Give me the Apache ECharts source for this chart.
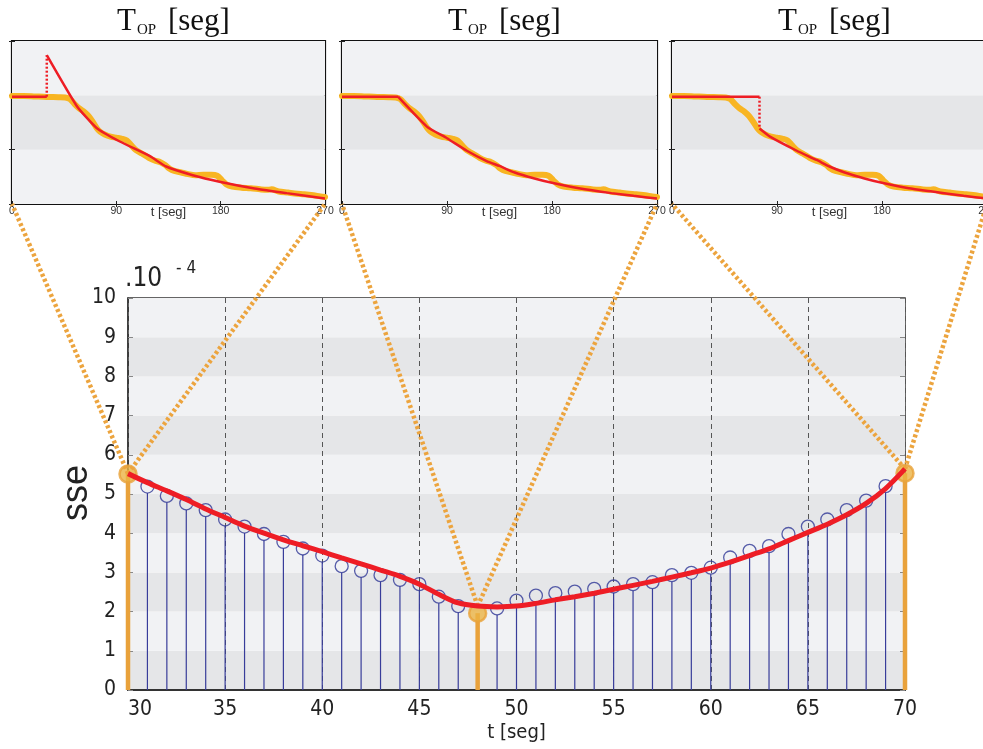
<!DOCTYPE html>
<html>
<head>
<meta charset="utf-8">
<script src="https://cdn.jsdelivr.net/npm/echarts@6/dist/echarts.min.js"></script>
<style>
  html, body { margin: 0; padding: 0; background: #ffffff; }
  #chart { width: 983px; height: 749px; }
</style>
</head>
<body>
<div id="chart"></div>
<script>
// ---- main plot: sum of squared errors versus switching time ----
const tSeg = [30, 31, 32, 33, 34, 35, 36, 37, 38, 39, 40, 41, 42, 43, 44, 45, 46, 47, 48, 49,
              50, 51, 52, 53, 54, 55, 56, 57, 58, 59, 60, 61, 62, 63, 64, 65, 66, 67, 68, 69, 70];
const sse = [5.51, 5.19, 4.95, 4.76, 4.59, 4.35, 4.17, 3.98, 3.78, 3.61, 3.43, 3.16, 3.04, 2.93,
             2.81, 2.70, 2.38, 2.14, 1.96, 2.08, 2.28, 2.41, 2.47, 2.51, 2.58, 2.64, 2.70, 2.75,
             2.93, 2.99, 3.12, 3.38, 3.55, 3.67, 3.98, 4.17, 4.35, 4.59, 4.83, 5.20, 5.53];
const sseFit = [5.52, 5.29, 5.08, 4.86, 4.62, 4.40, 4.18, 4.00, 3.83, 3.68, 3.53, 3.37, 3.22,
                3.06, 2.90, 2.70, 2.44, 2.22, 2.14, 2.12, 2.14, 2.21, 2.30, 2.38, 2.47, 2.57,
                2.67, 2.77, 2.88, 2.99, 3.11, 3.26, 3.43, 3.60, 3.81, 4.02, 4.23, 4.47, 4.76,
                5.14, 5.64];
const highlightT = [30, 48, 70];
const xTicks = [30, 35, 40, 45, 50, 55, 60, 65, 70];

// ---- small panels: T_OP over time ----
const panelTicks = [0, 90, 180, 270];
const measured = [[0, 1.99], [10, 1.99], [20, 1.98], [30, 1.97], [40, 1.965], [46, 1.96],
                  [50, 1.93], [54, 1.84], [58, 1.76], [62, 1.70], [66, 1.62], [70, 1.50],
                  [73, 1.40], [76, 1.33], [80, 1.28], [85, 1.24], [90, 1.22], [95, 1.20],
                  [99, 1.17], [103, 1.08], [107, 0.99], [112, 0.93], [118, 0.85], [123, 0.80],
                  [128, 0.77], [132, 0.72], [136, 0.65], [140, 0.61], [146, 0.58], [152, 0.55],
                  [158, 0.53], [165, 0.54], [172, 0.54], [177, 0.52], [181, 0.44], [185, 0.36],
                  [190, 0.32], [198, 0.30], [206, 0.29], [214, 0.27], [220, 0.26], [224, 0.27],
                  [230, 0.23], [238, 0.21], [246, 0.19], [252, 0.18], [260, 0.16], [266, 0.14],
                  [270, 0.13]];
const switchT = [30, 48, 75];
const holdLevel = [1.975, 1.975, 1.975];
const model1 = [[30, 2.74], [56, 1.80], [73, 1.40], [93, 1.15], [119, 0.88], [133, 0.69],
                [156, 0.53], [179, 0.41], [208, 0.29], [237, 0.20], [270, 0.10]];
const model2 = [[48, 1.975], [73, 1.42], [90, 1.21], [107, 0.98], [124, 0.79], [135, 0.70],
                [148, 0.58], [165, 0.47], [180, 0.39], [203, 0.29], [231, 0.20], [250, 0.15],
                [270, 0.10]];
const model3 = [[75, 1.39], [84, 1.24], [107, 0.98], [124, 0.81], [135, 0.69], [148, 0.58],
                [165, 0.47], [180, 0.39], [203, 0.29], [223, 0.23], [250, 0.15], [270, 0.10]];
const models = [model1, model2, model3];

const SANS_N = "'Liberation Sans Narrow', 'DejaVu Sans Condensed', 'Liberation Sans', sans-serif";
const SANS = "'Liberation Sans', Arial, sans-serif";
const SERIF = "'Liberation Serif', 'DejaVu Serif', serif";
const LIGHT = '#f1f2f4', DARK = '#e5e6e8';
const ORANGE = '#e9a23b', RED = '#ee1d25', BLUE = '#2f3796';

const chart = echarts.init(document.getElementById('chart'), null, { renderer: 'canvas' });

const stemsBlue = [], stemsOrange = [], fitLine = [];
tSeg.forEach((t, i) => {
  fitLine.push([t, sseFit[i]]);
  if (highlightT.includes(t)) stemsOrange.push([t, sse[i]]);
  else stemsBlue.push([t, sse[i]]);
});

function stemRenderer(gap, color, width) {
  return function (params, api) {
    const base = api.coord([api.value(0), 0]);
    const top = api.coord([api.value(0), api.value(1)]);
    return {
      type: 'line',
      shape: { x1: base[0], y1: base[1], x2: top[0], y2: top[1] + gap },
      style: { stroke: color, lineWidth: width }
    };
  };
}

const grids = [
  { left: 128, top: 298, width: 777, height: 392 },
  { left: 12, top: 41, width: 313, height: 163 },
  { left: 342, top: 41, width: 315, height: 163 },
  { left: 672, top: 41, width: 315, height: 163 }
].map(g => Object.assign({ show: true, borderColor: '#111', borderWidth: 2.2, backgroundColor: 'transparent',
                           containLabel: false, outerBoundsMode: 'none' }, g));
grids[0].borderColor = '#333';
grids[0].borderWidth = 1.5;

const xAxes = [{
  type: 'value', gridIndex: 0, min: 30, max: 70, interval: 5, position: 'bottom',
  axisLine: { show: true, lineStyle: { color: '#333', width: 2 } },
  axisTick: { show: false },
  axisLabel: { color: '#222', fontFamily: SANS_N, fontSize: 21, margin: 9, alignMinLabel: 'left',
               customValues: xTicks },
  splitLine: { show: true, lineStyle: { color: '#555', width: 1, type: [5, 4] } },
  name: 't [seg]', nameLocation: 'middle', nameGap: 33, nameMoveOverlap: false,
  nameTextStyle: { color: '#222', fontFamily: SANS_N, fontSize: 20 }
}];
const yAxes = [{
  type: 'value', gridIndex: 0, min: 0, max: 10, interval: 1, position: 'left',
  axisLine: { show: true, lineStyle: { color: '#333', width: 1.5 } },
  axisTick: { show: true, inside: true, length: 5, lineStyle: { color: '#888' } },
  axisLabel: { color: '#222', fontFamily: SANS_N, fontSize: 21, margin: 12 },
  splitLine: { show: false },
  splitArea: { show: true, areaStyle: { color: [DARK, LIGHT] } }
}, {
  type: 'value', gridIndex: 0, min: 0, max: 10, interval: 1, position: 'right',
  axisLine: { show: false },
  axisTick: { show: true, inside: true, length: 5, lineStyle: { color: '#888' } },
  axisLabel: { show: false }, splitLine: { show: false }
}];

const series = [
  { type: 'custom', name: 'stems', xAxisIndex: 0, yAxisIndex: 0, data: stemsBlue,
    encode: { x: 0, y: 1 }, renderItem: stemRenderer(6.5, '#383d9a', 1.2), z: 3, silent: true },
  { type: 'scatter', name: 'sse', xAxisIndex: 0, yAxisIndex: 0, data: stemsBlue,
    symbol: 'circle', symbolSize: 13,
    itemStyle: { color: 'rgba(0,0,0,0)', borderColor: BLUE, borderWidth: 1.3 }, z: 4, silent: true },
  { type: 'custom', name: 'stemsOp', xAxisIndex: 0, yAxisIndex: 0, data: stemsOrange,
    encode: { x: 0, y: 1 }, renderItem: stemRenderer(0, ORANGE, 4.5), z: 5, silent: true },
  { type: 'scatter', name: 'sseOp', xAxisIndex: 0, yAxisIndex: 0, data: stemsOrange,
    symbol: 'circle', symbolSize: 17,
    itemStyle: { color: '#ebb344', borderColor: ORANGE, borderWidth: 2.5 }, z: 6, silent: true },
  { type: 'line', name: 'fit', xAxisIndex: 0, yAxisIndex: 0, data: fitLine,
    smooth: 0.3, symbol: 'none', lineStyle: { color: RED, width: 5 }, z: 10, silent: true }
];

const titles = [];
for (let p = 0; p < 3; p++) {
  const g = p + 1;
  const xb = xAxes.length;
  xAxes.push({
    type: 'value', gridIndex: g, min: 0, max: 270, interval: 90, position: 'bottom',
    axisLine: { show: false },
    axisTick: { show: true, inside: true, length: 3, lineStyle: { color: '#222' } },
    axisLabel: { color: '#333', fontFamily: SANS, fontSize: 10.5, margin: 2, customValues: panelTicks },
    splitLine: { show: false },
    name: 't [seg]', nameLocation: 'middle', nameGap: 2, nameMoveOverlap: false,
    nameTextStyle: { color: '#333', fontFamily: SANS, fontSize: 13, verticalAlign: 'top' }
  });
  xAxes.push({
    type: 'value', gridIndex: g, min: 0, max: 270, interval: 90, position: 'top',
    axisLine: { show: false },
    axisTick: { show: true, inside: true, length: 3, lineStyle: { color: '#222' } },
    axisLabel: { show: false }, splitLine: { show: false }
  });
  const yl = yAxes.length;
  yAxes.push({
    type: 'value', gridIndex: g, min: 0, max: 3, interval: 1, position: 'left',
    axisLine: { show: false },
    axisTick: { show: true, inside: true, length: 3, lineStyle: { color: '#222' } },
    axisLabel: { show: false }, splitLine: { show: false },
    splitArea: { show: true, areaStyle: { color: [LIGHT, DARK] } }
  });
  yAxes.push({
    type: 'value', gridIndex: g, min: 0, max: 3, interval: 1, position: 'right',
    axisLine: { show: false },
    axisTick: { show: true, inside: true, length: 3, lineStyle: { color: '#222' } },
    axisLabel: { show: false }, splitLine: { show: false }
  });
  series.push({
    type: 'line', xAxisIndex: xb, yAxisIndex: yl, data: measured, smooth: 0.3, symbol: 'none',
    lineStyle: { color: '#f8b522', width: 6, cap: 'round', join: 'round' }, z: 3, silent: true
  });
  series.push({
    type: 'line', xAxisIndex: xb, yAxisIndex: yl,
    data: [[0, holdLevel[p]], [switchT[p], holdLevel[p]]], symbol: 'none',
    lineStyle: { color: RED, width: 2.5 }, z: 5, silent: true
  });
  series.push({
    type: 'line', xAxisIndex: xb, yAxisIndex: yl,
    data: [[switchT[p], holdLevel[p]], models[p][0]], symbol: 'none',
    lineStyle: { color: RED, width: 2.5, type: [2, 2] }, z: 5, silent: true
  });
  series.push({
    type: 'line', xAxisIndex: xb, yAxisIndex: yl, data: models[p], smooth: 0.15, symbol: 'none',
    lineStyle: { color: RED, width: 2.5 }, z: 5, silent: true
  });
  const cx = grids[g].left + grids[g].width / 2;
  titles.push({
    text: '{t|T}{s|OP}{t| [seg]}', left: cx, top: 1, textAlign: 'center',
    textStyle: {
      fontWeight: 'normal',
      rich: {
        t: { fontFamily: SERIF, fontSize: 31, fontWeight: 'normal', color: '#111', lineHeight: 32 },
        s: { fontFamily: SERIF, fontSize: 15, fontWeight: 'normal', color: '#111', lineHeight: 11,
             verticalAlign: 'bottom', padding: [0, 4, 0, 1] }
      }
    }
  });
}

const option = {
  animation: false,
  backgroundColor: '#ffffff',
  title: titles,
  grid: grids,
  xAxis: xAxes,
  yAxis: yAxes,
  series: series,
  graphic: [
    { type: 'text', x: 77, y: 493, rotation: Math.PI / 2,
      style: { text: 'sse', fontFamily: SANS, fontSize: 36, fill: '#222', align: 'center', verticalAlign: 'middle' } },
    { type: 'text', x: 125, y: 279,
      style: { text: '.10', fontFamily: SANS_N, fontSize: 26, fill: '#222', align: 'left', verticalAlign: 'middle' } },
    { type: 'text', x: 176, y: 269,
      style: { text: '- 4', fontFamily: SANS_N, fontSize: 17, fill: '#222', align: 'left', verticalAlign: 'middle' } }
  ]
};
chart.setOption(option);

// dotted guides from the highlighted points up to the lower corners of each panel
const guides = [];
highlightT.forEach((t, p) => {
  const from = chart.convertToPixel({ xAxisIndex: 0, yAxisIndex: 0 }, [t, sseFit[tSeg.indexOf(t)]]);
  const xb = 1 + p * 2, yl = 2 + p * 2;
  [0, 270].forEach(tx => {
    const to = chart.convertToPixel({ xAxisIndex: xb, yAxisIndex: yl }, [tx, 0]);
    guides.push({
      type: 'line', z: 7, silent: true,
      shape: { x1: from[0], y1: from[1], x2: to[0], y2: to[1] },
      style: { stroke: '#eca43e', lineWidth: 4.5, lineDash: [3, 2.5] }
    });
  });
});
chart.setOption({ graphic: option.graphic.concat(guides) });
</script>
</body>
</html>
